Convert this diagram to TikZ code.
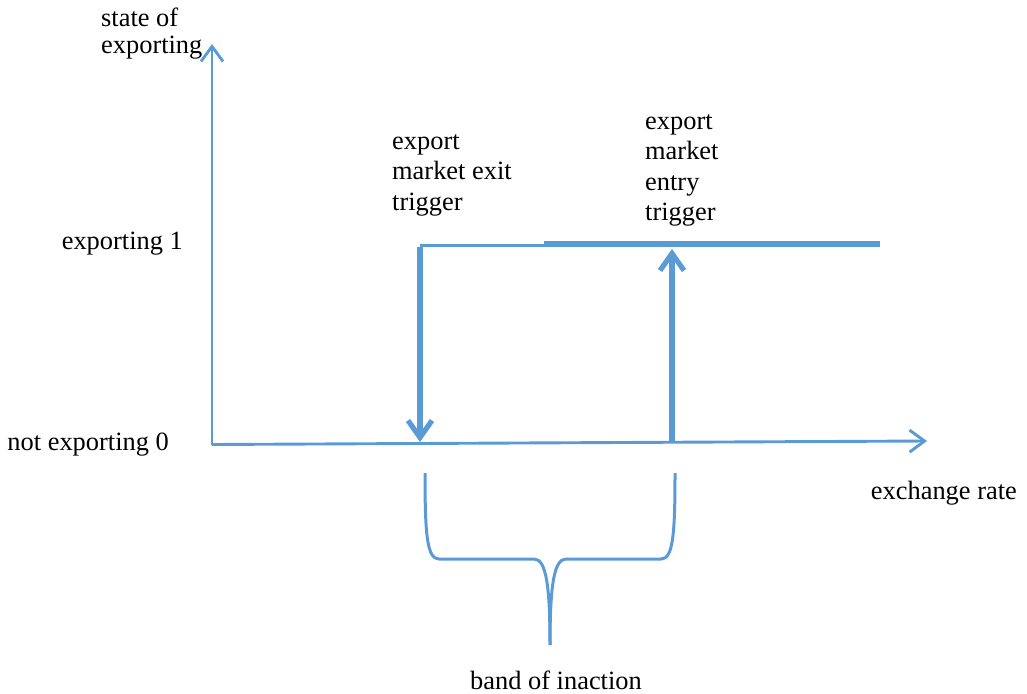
\documentclass[tikz,border=0pt]{standalone}
\usepackage{fontspec}
\setmainfont{Liberation Serif}
\usetikzlibrary{arrows.meta}
\definecolor{ablue}{RGB}{91,155,213}
\begin{document}
\begin{tikzpicture}[x=1pt,y=-1pt,
  axisline/.style={draw=ablue,line width=2.9pt,-{Straight Barb[length=15pt,width=22pt]}},
  plainline/.style={draw=ablue,line width=3pt},
  boldline/.style={draw=ablue,line width=5.4pt},
  boldarrow/.style={draw=ablue,line width=5.2pt,-{Straight Barb[length=17pt,width=24pt]}},
  bracestyle/.style={draw=ablue,line width=3pt},
  lbl/.style={font=\fontsize{26.4}{30.5}\selectfont,inner sep=0pt,text=black,align=left}
]
\useasboundingbox (0,0) rectangle (1027,693);
% coordinates
\coordinate (O) at (212,444.5);
\coordinate (ytop) at (212,44);
\coordinate (xend) at (927,441);
\coordinate (corner) at (420,245);
\coordinate (joint) at (545,245);
\coordinate (thickstart) at (544,244);
\coordinate (thickend) at (880,244);
\coordinate (exitbot) at (420,442);
\coordinate (entrybot) at (672,442);
\coordinate (entrytop) at (672,249);
\coordinate (bl) at (425,473);
\coordinate (br) at (675,473);
\coordinate (bmid) at (550,645);
% axes
\draw[axisline] (O) -- (ytop);
\draw[axisline] (O) -- (xend);
% level 1 lines
\draw[plainline] (corner) -- (joint);
\draw[boldline] (thickstart) -- (thickend);
% trigger arrows
\draw[boldarrow] ([yshift=-1.5pt]corner) -- (exitbot);
\draw[boldarrow] (entrybot) -- (entrytop);
% brace
\draw[bracestyle] (bl) .. controls (425,535) and (427,559) .. (439,559) -- (534,559)
  .. controls (546,559) and (550,585) .. (bmid);
\draw[bracestyle] (br) .. controls (675,535) and (673,559) .. (661,559) -- (566,559)
  .. controls (554,559) and (550,585) .. (bmid);
% labels
\node[lbl,anchor=base west] (ylab) at (101,27) {state of};
\node[lbl,anchor=base west] (ylab2) at (101,53) {exporting};
\node[lbl,anchor=base east] (one) at (183,249) {exporting 1};
\node[lbl,anchor=base east] (zero) at (169,450) {not exporting 0};
\node[lbl,anchor=north west] (exitlab) at (392,134) {export\\market exit\\trigger};
\node[lbl,anchor=north west] (entrylab) at (645,114) {export\\market\\entry\\trigger};
\node[lbl,anchor=base east] (xlab) at (1017,499) {exchange rate};
\node[lbl,anchor=base] (band) at (556,689) {band of inaction};
\end{tikzpicture}
\end{document}
